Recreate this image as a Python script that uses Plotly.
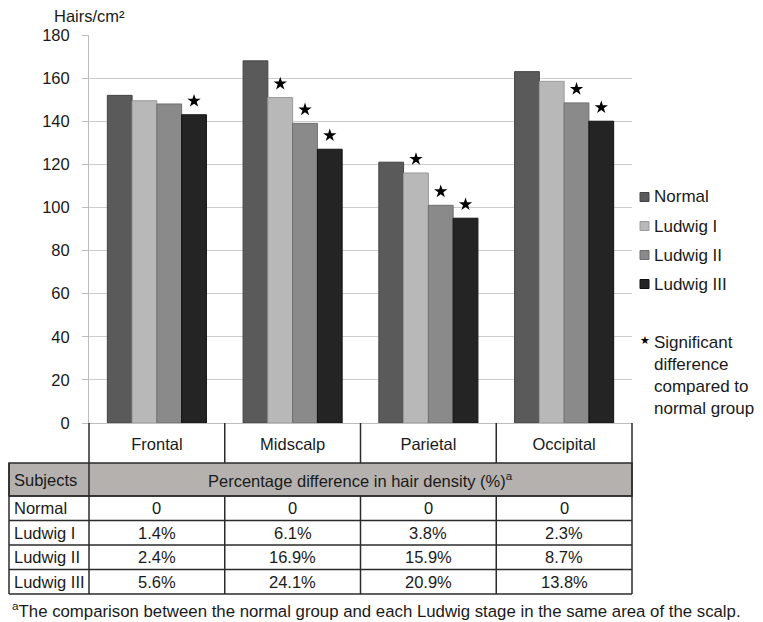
import plotly.graph_objects as go

# ---------------- data ----------------
regions = ["Frontal", "Midscalp", "Parietal", "Occipital"]
groups = ["Normal", "Ludwig I", "Ludwig II", "Ludwig III"]

normal = [152, 168, 121, 163]
ludwig_1 = [149.5, 151, 116, 158.5]
ludwig_2 = [148, 139, 101, 148.5]
ludwig_3 = [143, 127, 95, 140]

sig_normal = [False, False, False, False]
sig_ludwig_1 = [False, True, True, False]
sig_ludwig_2 = [False, True, True, True]
sig_ludwig_3 = [True, True, True, True]

pct_normal = ["0", "0", "0", "0"]
pct_ludwig_1 = ["1.4%", "6.1%", "3.8%", "2.3%"]
pct_ludwig_2 = ["2.4%", "16.9%", "15.9%", "8.7%"]
pct_ludwig_3 = ["5.6%", "24.1%", "20.9%", "13.8%"]

y_ticks = [0, 20, 40, 60, 80, 100, 120, 140, 160, 180]

y_title = "Hairs/cm\u00b2"
table_header_left = "Subjects"
table_header = "Percentage difference in hair density (%)<sup>a</sup>"
legend_star_text = "Significant<br>difference<br>compared to<br>normal group"
footnote = "<sup>a</sup>The comparison between the normal group and each Ludwig stage in the same area of the scalp."

# ---------------- styling / layout helpers ----------------
OFF = 8  # page body margin of the html page
W, H = 763 - OFF, 622 - OFF
ML, MR, MT, MB = 89 - OFF, 131, 35 - OFF, 199
PW = W - ML - MR
PH = H - MT - MB
FONT = "Liberation Sans, Arial, sans-serif"
TXT = "#1a1a1a"
colors = ["#5a5a5a", "#b8b8b8", "#8a8a8a", "#242424"]
edge = ["#444444", "#9a9a9a", "#6e6e6e", "#111111"]
GRID = "#cccccc"
LINE = "#2b2b2b"
GRAY_FILL = "#b4b1ae"


def py(p):
    """reference-screen pixel y -> paper y"""
    return (H - MB - (p - OFF)) / PH


def px(p):
    """reference-screen pixel x -> paper x"""
    return (p - OFF - ML) / PW


series = [normal, ludwig_1, ludwig_2, ludwig_3]
sigs = [sig_normal, sig_ludwig_1, sig_ludwig_2, sig_ludwig_3]
pct_rows = [pct_normal, pct_ludwig_1, pct_ludwig_2, pct_ludwig_3]
STAR_OFFSET = 6.4

fig = go.Figure()
for name, vals, col, ec in zip(groups, series, colors, edge):
    fig.add_trace(go.Bar(
        x=regions, y=vals, name=name, offsetgroup=name,
        marker=dict(color=col, line=dict(color=ec, width=1)),
        showlegend=False,
    ))
for name, vals, sg in zip(groups, series, sigs):
    fig.add_trace(go.Scatter(
        x=regions, y=[v + STAR_OFFSET if s else None for v, s in zip(vals, sg)],
        mode="markers", offsetgroup=name, cliponaxis=False,
        marker=dict(symbol="star", size=10, color="#000000"),
        showlegend=False, hoverinfo="skip",
    ))

shapes = []
ann = []

# ---------------- table ----------------
row_lines = [423, 463, 496, 520.5, 545, 569.5, 594]
left_edge = px(9)
shapes.append(dict(type="rect", xref="paper", yref="paper", x0=left_edge, x1=1,
                   y0=py(496), y1=py(463), fillcolor=GRAY_FILL,
                   line=dict(color=LINE, width=1.5), layer="below"))
for yy in row_lines[2:]:
    shapes.append(dict(type="line", xref="paper", yref="paper", x0=left_edge, x1=1,
                       y0=py(yy), y1=py(yy), line=dict(color=LINE, width=1.5)))
n = len(regions)
for i in range(n + 1):
    xp = i / n
    if i in (0, n):
        shapes.append(dict(type="line", xref="paper", yref="paper", x0=xp, x1=xp,
                           y0=py(423), y1=py(594), line=dict(color=LINE, width=1.5)))
    else:
        shapes.append(dict(type="line", xref="paper", yref="paper", x0=xp, x1=xp,
                           y0=py(423), y1=py(463), line=dict(color=LINE, width=1.5)))
        shapes.append(dict(type="line", xref="paper", yref="paper", x0=xp, x1=xp,
                           y0=py(496), y1=py(594), line=dict(color=LINE, width=1.5)))
shapes.append(dict(type="line", xref="paper", yref="paper", x0=left_edge, x1=left_edge,
                   y0=py(463), y1=py(594), line=dict(color=LINE, width=1.5)))

tfont = dict(family=FONT, size=16.5, color=TXT)
ann.append(dict(text=table_header_left, xref="paper", yref="paper", x=px(12), y=py(480),
                xanchor="left", yanchor="middle", showarrow=False, font=tfont))
ann.append(dict(text=table_header, xref="paper", yref="paper", x=0.5, y=py(480),
                xanchor="center", yanchor="middle", showarrow=False, font=tfont))
row_centers = [508, 533, 557, 582]
for g, rowvals, yc in zip(groups, pct_rows, row_centers):
    ann.append(dict(text=g, xref="paper", yref="paper", x=px(12), y=py(yc),
                    xanchor="left", yanchor="middle", showarrow=False, font=tfont))
    for r, v in zip(regions, rowvals):
        ann.append(dict(text=v, xref="x", yref="paper", x=r, y=py(yc),
                        xanchor="center", yanchor="middle", showarrow=False, font=tfont))

# footnote
ann.append(dict(text=footnote, xref="paper", yref="paper", x=px(10), y=py(610),
                xanchor="left", yanchor="middle", showarrow=False,
                font=dict(family=FONT, size=16.8, color=TXT)))

# y title
ann.append(dict(text=y_title, xref="paper", yref="paper", x=px(52), y=py(16),
                xanchor="left", yanchor="middle", showarrow=False,
                font=dict(family=FONT, size=16.5, color=TXT)))

# ---------------- legend (drawn) ----------------
lfont = dict(family=FONT, size=17, color=TXT)
leg_y = [197, 226, 255, 284]
SQ = 9
for g, col, ec, yy in zip(groups, colors, edge, leg_y):
    shapes.append(dict(type="rect", xref="paper", yref="paper",
                       x0=px(640), x1=px(640 + SQ), y0=py(yy + SQ / 2), y1=py(yy - SQ / 2),
                       fillcolor=col, line=dict(color=ec, width=1)))
    ann.append(dict(text=g, xref="paper", yref="paper", x=px(652), y=py(yy),
                    xanchor="left", yanchor="middle", showarrow=False, font=lfont))
ann.append(dict(text="\u2605", xref="paper", yref="paper", x=px(645), y=py(340),
                xanchor="center", yanchor="middle", showarrow=False,
                font=dict(family="DejaVu Sans", size=11, color="#000")))
ann.append(dict(text=legend_star_text, xref="paper", yref="paper", x=px(652), y=py(331),
                xanchor="left", yanchor="top", showarrow=False, align="left",
                font=lfont))

fig.update_layout(
    width=W, height=H,
    margin=dict(l=ML, r=MR, t=MT, b=MB, pad=0),
    paper_bgcolor="white", plot_bgcolor="white",
    barmode="group", bargap=0.27, bargroupgap=0,
    scattermode="group", scattergap=0.27,
    font=dict(family=FONT, size=16, color=TXT),
    shapes=shapes, annotations=ann,
    showlegend=False,
)
fig.update_yaxes(range=[0, 180], tickvals=y_ticks, showgrid=True, gridcolor=GRID, gridwidth=1,
                 showline=True, linecolor="#bdbdbd", linewidth=1,
                 ticks="outside", ticklen=6, tickcolor="#bdbdbd",
                 ticklabelstandoff=9, tickfont=dict(family=FONT, size=16.5, color=TXT),
                 zeroline=False)
fig.update_xaxes(showgrid=False, showline=True, linecolor="#bdbdbd", linewidth=1,
                 ticks="", ticklabelstandoff=6,
                 tickfont=dict(family=FONT, size=16.5, color=TXT))

fig.write_html("out.html")
